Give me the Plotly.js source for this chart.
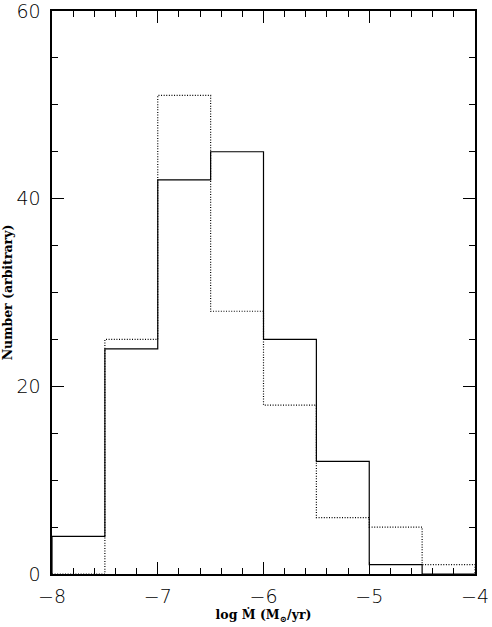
<!DOCTYPE html>
<html>
<head>
<meta charset="utf-8">
<script src="https://cdn.plot.ly/plotly-3.0.1.min.js"></script>
<style>
  html, body { margin: 0; padding: 0; background: #fff; }
  #chart { width: 492px; height: 627px; }
</style>
</head>
<body>
<div id="chart"></div>
<script>
// bin edges in log Mdot (Msun/yr), bins of 0.5 dex
var binEdges = [-8, -7.5, -7, -6.5, -6, -5.5, -5, -4.5, -4];
var countsSolid = [4, 24, 42, 45, 25, 12, 1, 0];
var countsDotted = [0, 25, 51, 28, 18, 6, 5, 1];

// turn edges + counts into a step outline
function stepTrace(counts, dash) {
  var x = [binEdges[0]].concat(binEdges);
  var y = [0].concat(counts, [counts[counts.length - 1]]);
  x.push(binEdges[binEdges.length - 1]);
  y.push(0);
  return {
    x: x, y: y,
    type: 'scatter', mode: 'lines',
    line: {shape: 'hv', color: '#000', width: 1.2, dash: dash},
    hoverinfo: 'skip', showlegend: false
  };
}

var data = [stepTrace(countsDotted, '1px,1.6px'), stepTrace(countsSolid, 'solid')];

var tickFont = {family: 'DejaVu Sans, sans-serif', size: 19, color: '#000', weight: 300};
var titleFont = {family: 'DejaVu Serif, serif', size: 12.5, color: '#000', weight: 'bold'};

var layout = {
  width: 492, height: 627,
  margin: {l: 52, r: 17, t: 11, b: 53},
  paper_bgcolor: '#fff', plot_bgcolor: '#fff',
  xaxis: {
    range: [-8, -4], dtick: 1, tick0: -8,
    ticks: 'inside', ticklen: 12, tickwidth: 1.3, tickcolor: '#000',
    minor: {dtick: 0.2, ticks: 'inside', ticklen: 6, tickwidth: 1, tickcolor: '#000'},
    showline: true, linecolor: '#000', linewidth: 1.6, mirror: 'allticks',
    showgrid: false, zeroline: false,
    tickfont: tickFont, ticklabelstandoff: 5, ticklabeloverflow: 'allow',
    title: {text: 'log Ṁ (M<sub>⊙</sub>/yr)', font: titleFont, standoff: 0}
  },
  yaxis: {
    range: [0, 60], dtick: 20, tick0: 0,
    ticks: 'inside', ticklen: 12, tickwidth: 1.3, tickcolor: '#000',
    minor: {dtick: 5, ticks: 'inside', ticklen: 6, tickwidth: 1, tickcolor: '#000'},
    showline: true, linecolor: '#000', linewidth: 1.6, mirror: 'allticks',
    showgrid: false, zeroline: false,
    tickfont: tickFont, ticklabelstandoff: 6, ticklabeloverflow: 'allow',
    title: {text: 'Number (arbitrary)', font: titleFont, standoff: 4}
  }
};

Plotly.newPlot('chart', data, layout, {displayModeBar: false, staticPlot: true});
</script>
</body>
</html>
